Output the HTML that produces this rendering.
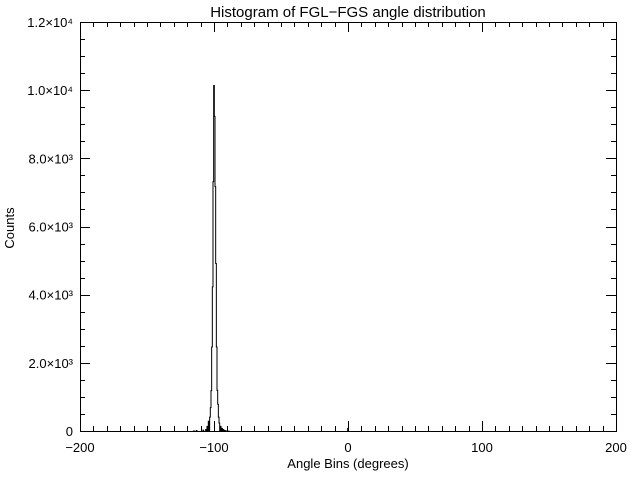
<!DOCTYPE html>
<html><head><meta charset="utf-8"><style>
body{margin:0;background:#fff;}
svg{display:block;}
text{font-family:"Liberation Sans",sans-serif;font-size:13px;fill:#000;}
</style></head><body>
<svg id="chart" width="640" height="480" xmlns="http://www.w3.org/2000/svg">
<text x="348" y="17" text-anchor="middle" font-size="15" style="font-size:15px">Histogram of FGL−FGS angle distribution</text>
<text x="348" y="468" text-anchor="middle">Angle Bins (degrees)</text>
<text x="14" y="228" text-anchor="middle" transform="rotate(-90 14 228)">Counts</text>
<g id="axes"></g>
<path id="hist" fill="none" stroke="#000" stroke-width="1"/>
</svg>
<script>
const binCenters=[-115,-114,-113,-108,-106,-105,-104,-103,-102.5,-102,-101.5,-101,-100.5,-100,-99.5,-99,-98.5,-98,-97.5,-97,-96.5,-96,-95,-94,-93,-92,-91,-89,-1,0,1];
const binCounts=[20,0,30,40,60,150,300,420,700,1200,2480,4245,7330,10150,9245,7186,4930,2480,1206,800,420,250,150,90,60,30,20,10,0,90,0];
const xTickLabels=["−200","−100","0","100","200"];
const xTickValues=[-200,-100,0,100,200];
const yTickValues=[0,2000,4000,6000,8000,10000,12000];
const yTickLabels=["0","2.0×10³","4.0×10³","6.0×10³","8.0×10³","1.0×10⁴","1.2×10⁴"];
const L=80,R=616,T=22,B=431;
const sx=v=>L+(v+200)/400*(R-L);
const sy=v=>B-v/12000*(B-T);
const ns="http://www.w3.org/2000/svg";
const ax=document.getElementById('axes');
function line(x1,y1,x2,y2,name){const l=document.createElementNS(ns,'line');
l.setAttribute('x1',x1);l.setAttribute('y1',y1);l.setAttribute('x2',x2);l.setAttribute('y2',y2);
l.setAttribute('stroke','#000');l.setAttribute('stroke-width','1');


ax.appendChild(l);}
function txt(x,y,s,anchor,name){const t=document.createElementNS(ns,'text');
t.setAttribute('x',x);t.setAttribute('y',y);t.setAttribute('text-anchor',anchor);t.textContent=s;


ax.appendChild(t);}
const r=document.createElementNS(ns,'rect');
r.setAttribute('x',L+0.5);r.setAttribute('y',T+0.5);r.setAttribute('width',R-L);r.setAttribute('height',B-T);
r.setAttribute('fill','none');r.setAttribute('stroke','#000');


ax.appendChild(r);
for(let v=-200;v<=200;v+=10){const x=Math.round(sx(v))+0.5;const len=(v%100===0)?10:5;
line(x,B,x,B-len,'x-tick');line(x,T,x,T+len,'x-tick-top');}
xTickValues.forEach((v,i)=>txt(sx(v),452,xTickLabels[i],'middle','x-tick-label'));
for(let v=0;v<=12000;v+=500){const y=Math.round(sy(v))+0.5;const len=(v%2000===0)?10:5;
line(L,y,L+len,y,'y-tick');line(R,y,R-len,y,'y-tick-right');}
yTickValues.forEach((v,i)=>txt(73,sy(v)+5,yTickLabels[i],'end','y-tick-label'));
// step histogram
const w=0.5;let d='M'+sx(-200)+','+(B+0.5);let lastY=sy(0);
let pts=binCenters.map((c,i)=>[c,binCounts[i]]);
d+=' L'+sx(pts[0][0]-w/2)+','+(sy(0)+0.5);
pts.forEach(([c,v],i)=>{const x0=sx(c-w/2),x1=sx(c+w/2),y=sy(v)+0.5;
if(i>0&&pts[i-1][0]+w<c){d+=' L'+sx(pts[i-1][0]+w/2)+','+(sy(0)+0.5)+' L'+x0+','+(sy(0)+0.5);}
d+=' L'+x0+','+y+' L'+x1+','+y;});
d+=' L'+sx(pts[pts.length-1][0]+w/2)+','+(sy(0)+0.5)+' L'+sx(200)+','+(sy(0)+0.5);
document.getElementById('hist').setAttribute('d',d);
</script>
</body></html>
